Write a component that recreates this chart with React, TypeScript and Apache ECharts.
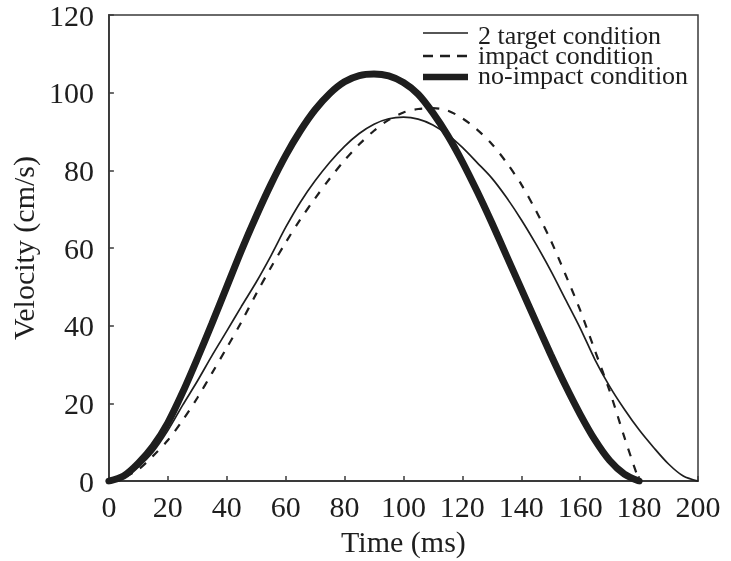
import React, { useEffect, useRef } from "react";
import * as echarts from "echarts";

const seriesNames = ["2 target condition", "impact condition", "no-impact condition"];

const twoTargetT = [0, 5, 10, 15, 20, 25, 30, 35, 40, 45, 50, 55, 60, 65, 70, 75, 80, 85, 90, 95, 100, 105, 110, 115, 120, 125, 130, 135, 140, 145, 150, 155, 160, 165, 170, 175, 180, 185, 190, 195, 200];
const twoTargetV = [0, 1.2, 3.7, 7.5, 13, 19.5, 25.7, 32.3, 38.6, 45, 51.2, 58, 65.3, 71.8, 77.3, 82.1, 86.2, 89.5, 91.9, 93.3, 93.7, 93.2, 91.7, 89.2, 85.9, 82, 78, 73, 67.3, 61, 54.2, 46.8, 39.4, 31.3, 24.4, 18.5, 13.2, 8.6, 4.4, 1.3, 0];

const impactT = [0, 5, 10, 15, 20, 25, 30, 35, 40, 45, 50, 55, 60, 65, 70, 75, 80, 85, 90, 95, 100, 105, 110, 115, 120, 125, 130, 135, 140, 145, 150, 155, 160, 165, 170, 175, 180];
const impactV = [0, 1, 3, 6.5, 10.5, 15.6, 21.4, 27.8, 34.3, 41, 48.2, 55, 61.4, 67.4, 72.8, 77.9, 82.6, 86.7, 90.2, 93, 94.9, 95.8, 96, 95.4, 93.4, 90.5, 86.8, 82, 76.4, 69.6, 62, 53.2, 44, 33.6, 23.2, 11.3, 0];

const noImpactT = [0, 5, 10, 15, 20, 25, 30, 35, 40, 45, 50, 55, 60, 65, 70, 75, 80, 85, 90, 95, 100, 105, 110, 115, 120, 125, 130, 135, 140, 145, 150, 155, 160, 165, 170, 175, 180];
const noImpactV = [0, 1.3, 4.6, 9, 15, 22.8, 31.5, 40.6, 50, 59.4, 68.2, 76.4, 83.8, 90.2, 95.6, 99.8, 102.8, 104.4, 104.8, 104.3, 102.6, 99.6, 94.8, 89, 82.2, 74.6, 66.5, 58, 49.5, 41, 32.6, 24.6, 17.2, 10.6, 5.3, 1.8, 0];

const xTicks = { min: 0, max: 200, interval: 20 };
const yTicks = { min: 0, max: 120, interval: 20 };

const pairs = (t: number[], v: number[]) => t.map((x, i) => [x, v[i]]);

const FONT = "Times New Roman";
const INK = "#1e1e1e";
const AXIS = "#3a3a3a";

const legendRows = [
  { lineY: 33, textY: 22, width: 1.7, dash: null as number[] | null },
  { lineY: 56, textY: 42, width: 2.4, dash: [10, 7] },
  { lineY: 77, textY: 62, width: 6.5, dash: null as number[] | null },
];

export default function App() {
  const ref = useRef<HTMLDivElement>(null);
  useEffect(() => {
    if (!ref.current) return;
    const chart = echarts.init(ref.current, undefined, { renderer: "svg" });
    const legendGraphics: any[] = [];
    legendRows.forEach((r, i) => {
      legendGraphics.push({
        type: "line",
        shape: { x1: 423, y1: r.lineY, x2: 468, y2: r.lineY },
        style: { stroke: INK, lineWidth: r.width, lineDash: r.dash || undefined },
        z: 10,
      });
      legendGraphics.push({
        type: "text",
        x: 478,
        y: r.textY,
        style: { text: seriesNames[i], fontFamily: FONT, fontSize: 26, fill: INK },
        z: 10,
      });
    });
    chart.setOption({
      animation: false,
      grid: {
        left: 105,
        right: 33,
        top: 14,
        bottom: 79,
        show: true,
        borderColor: AXIS,
        borderWidth: 1.5,
      },
      graphic: legendGraphics,
      xAxis: {
        type: "value",
        min: xTicks.min,
        max: xTicks.max,
        interval: xTicks.interval,
        name: "Time (ms)",
        nameLocation: "middle",
        nameGap: 44,
        nameTextStyle: { fontFamily: FONT, fontSize: 30, color: INK },
        axisLine: { show: true, lineStyle: { color: AXIS, width: 1.8 } },
        axisTick: { show: true, inside: true, length: 5, lineStyle: { color: AXIS, width: 1.5 } },
        axisLabel: { fontFamily: FONT, fontSize: 30, color: INK, margin: 10 },
        splitLine: { show: false },
      },
      yAxis: {
        type: "value",
        min: yTicks.min,
        max: yTicks.max,
        interval: yTicks.interval,
        name: "Velocity (cm/s)",
        nameLocation: "middle",
        nameRotate: 90,
        nameGap: 64,
        nameTextStyle: { fontFamily: FONT, fontSize: 30, color: INK },
        axisLine: { show: true, lineStyle: { color: AXIS, width: 1.8 } },
        axisTick: { show: true, inside: true, length: 5, lineStyle: { color: AXIS, width: 1.5 } },
        axisLabel: { fontFamily: FONT, fontSize: 30, color: INK, margin: 15, padding: [8, 0, 0, 0] },
        splitLine: { show: false },
      },
      series: [
        {
          name: seriesNames[0],
          type: "line",
          data: pairs(twoTargetT, twoTargetV),
          showSymbol: false,
          symbol: "none",
          smooth: 0.3,
          lineStyle: { color: INK, width: 1.7, type: "solid" },
          z: 2,
        },
        {
          name: seriesNames[1],
          type: "line",
          data: pairs(impactT, impactV),
          showSymbol: false,
          symbol: "none",
          smooth: 0.3,
          lineStyle: { color: INK, width: 2.2, type: [8, 9] },
          z: 2,
        },
        {
          name: seriesNames[2],
          type: "line",
          data: pairs(noImpactT, noImpactV),
          showSymbol: false,
          symbol: "none",
          smooth: 0.3,
          lineStyle: { color: INK, width: 7, type: "solid", cap: "round" },
          z: 3,
        },
      ],
    });
    return () => chart.dispose();
  }, []);
  return <div ref={ref} style={{ position: "fixed", left: 0, top: 0, width: 731, height: 561 }} />;
}
